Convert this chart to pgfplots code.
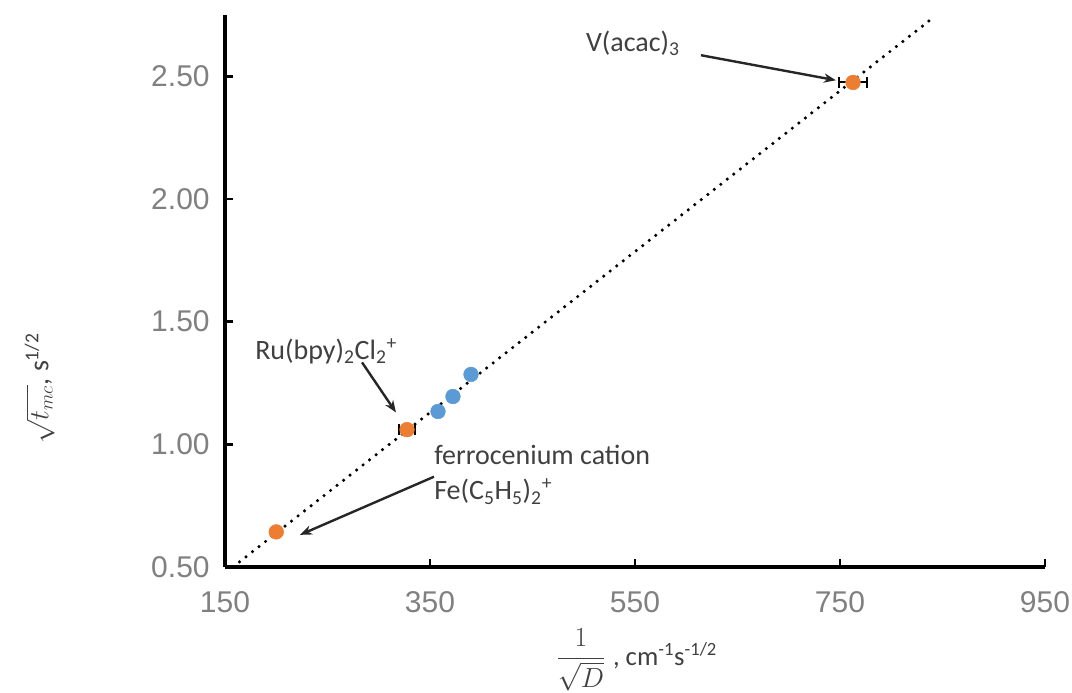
\documentclass[border=0pt]{standalone}
\usepackage{amsmath}
\usepackage{pgfplots}
\pgfplotsset{compat=1.18}
\usetikzlibrary{arrows.meta}
\usepackage{fontspec}
\setmainfont{Carlito}
\newfontfamily\arialfont{Liberation Sans}
\definecolor{xlorange}{HTML}{ED7D31}
\definecolor{xlblue}{HTML}{5B9BD5}
\definecolor{ticklab}{HTML}{808080}
\definecolor{anntext}{HTML}{404040}
\begin{document}
\begin{tikzpicture}
\useasboundingbox (-168.75pt,-94.5pt) rectangle (635.25pt,425.25pt);
\begin{axis}[
  scale only axis,
  width=615pt, height=414pt,
  xmin=150, xmax=950, ymin=0.5, ymax=2.75,
  axis x line*=bottom, axis y line*=left,
  axis line style={line width=2.4pt, -},
  xtick={150,350,550,750,950},
  ytick={0.5,1.0,1.5,2.0,2.5},
  tick align=inside,
  major tick length=6pt,
  tick style={line width=1.8pt, black},
  /pgf/number format/assume math mode=true,
  ticklabel style={font=\arialfont\fontsize{22.5}{26}\selectfont, text=ticklab},
  yticklabel style={/pgf/number format/fixed, /pgf/number format/fixed zerofill, /pgf/number format/precision=2, xshift=-8pt},
  xticklabel style={/pgf/number format/fixed, /pgf/number format/precision=0, yshift=-15pt},
  clip=false,
]
\addplot[only marks, mark=*, mark size=5.5pt, color=xlorange,
  error bars/.cd, x dir=both, x explicit,
  error bar style={black, line width=1.5pt}, error mark options={black, line width=1.5pt, mark size=4pt, rotate=90}]
  coordinates {(200,0.643) +- (0,0) (327.6,1.06) +- (8,0) (762.7,2.475) +- (13.5,0)};
\addplot[only marks, mark=*, mark size=5.5pt, color=xlblue]
  coordinates {(357.8,1.134) (372.4,1.195) (390,1.285)};
\addplot[black, line width=2.6pt, dash pattern=on 0pt off 6.2pt, line cap=round]
  coordinates {(157.8,0.5) (842.7,2.745)};
% annotations
\draw[-{Stealth[length=9pt,width=7pt]}, line width=1.8pt, black!85] (axis cs:614.4,2.586) -- (axis cs:746,2.484);
\node[anchor=west, text=anntext, font=\fontsize{21}{25}\selectfont, inner sep=0pt] at (axis cs:502,2.635) {V(acac)\textsubscript{3}};
\draw[-{Stealth[length=9pt,width=7pt]}, line width=1.8pt, black!85] (axis cs:283.7,1.334) -- (axis cs:316.8,1.13);
\node[anchor=west, text=anntext, font=\fontsize{21}{25}\selectfont, inner sep=0pt] at (axis cs:179.3,1.379) {Ru(bpy)\textsubscript{2}Cl\textsubscript{2}\textsuperscript{+}};
\draw[-{Stealth[length=9pt,width=7pt]}, line width=1.8pt, black!85] (axis cs:353.9,0.868) -- (axis cs:223.2,0.631);
\node[anchor=west, text=anntext, font=\fontsize{21}{25}\selectfont, inner sep=0pt] at (axis cs:353.9,0.958) {ferrocenium cation};
\node[anchor=west, text=anntext, font=\fontsize{21}{25}\selectfont, inner sep=0pt] at (axis cs:353.9,0.807) {Fe(C\textsubscript{5}H\textsubscript{5})\textsubscript{2}\textsuperscript{+}};
% axis labels
\node[rotate=90, text=anntext, font=\fontsize{21}{25}\selectfont] at (axis description cs:-0.226,0.324) {$\sqrt{t_{mc}}$, s\textsuperscript{1/2}};
\node[text=anntext, font=\fontsize{20}{24}\selectfont] at (axis description cs:0.502,-0.168) {$\dfrac{1}{\sqrt{D}}$\;, cm\textsuperscript{-1}s\textsuperscript{-1/2}};
\end{axis}
\end{tikzpicture}
\end{document}
